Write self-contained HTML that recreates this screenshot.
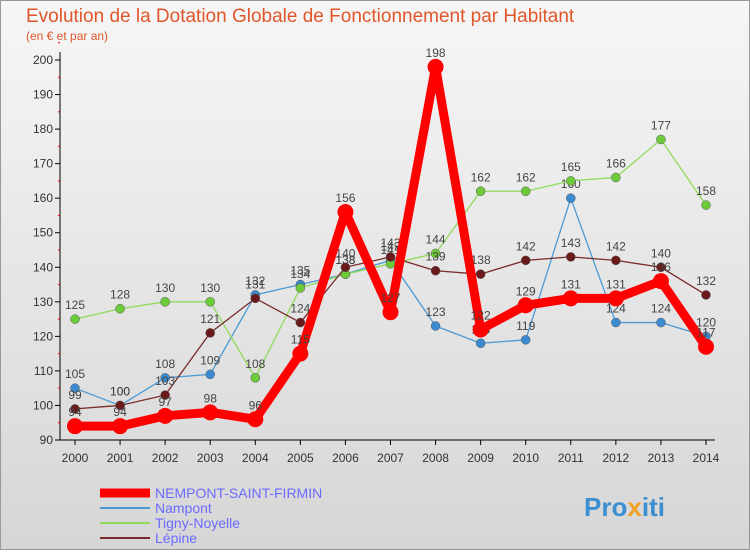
<!DOCTYPE html>
<html><head><meta charset="utf-8"><style>
body{margin:0;width:750px;height:550px;overflow:hidden;font-family:"Liberation Sans",sans-serif}
svg text{font-family:"Liberation Sans",sans-serif}
</style></head><body>
<svg width="750" height="550">
<defs><linearGradient id="bg" x1="0" y1="0" x2="0" y2="1"><stop offset="0" stop-color="#f6f6f6"/><stop offset="1" stop-color="#d6d6d6"/></linearGradient></defs>
<rect x="0.5" y="0.5" width="749" height="549" fill="url(#bg)" stroke="#999"/>
<text x="26" y="22" font-size="19" fill="#e0562b">Evolution de la Dotation Globale de Fonctionnement par Habitant</text>
<text x="26" y="40" font-size="12" fill="#e0562b">(en € et par an)</text>
<g id="axes"></g><g id="series"></g><g id="legend"></g>
<text x="584" y="516" font-size="26" font-weight="bold" fill="#3b8fd1">Pro<tspan fill="#f2a023">x</tspan>iti</text>
</svg>
<script>
const years=[2000,2001,2002,2003,2004,2005,2006,2007,2008,2009,2010,2011,2012,2013,2014];
const nempont=[94,94,97,98,96,115,156,127,198,122,129,131,131,136,117];
const nampont=[105,100,108,109,132,135,138,142,123,118,119,160,124,124,120];
const tigny=[125,128,130,130,108,134,138,141,144,162,162,165,166,177,158];
const lepine=[99,100,103,121,131,124,140,143,139,138,142,143,142,140,132];
const yTicks=[90,100,110,120,130,140,150,160,170,180,190,200];
const names=["NEMPONT-SAINT-FIRMIN","Nampont","Tigny-Noyelle","Lépine"];
const NS="http://www.w3.org/2000/svg";
const x=i=>75+i*(706-75)/(years.length-1);
const y=v=>440-(v-90)*(380/110);
function mk(t,a,p){const e=document.createElementNS(NS,t);for(const k in a)e.setAttribute(k,a[k]);p.appendChild(e);return e;}
const ax=document.getElementById('axes');
const yl=mk('line',{x1:60,y1:52,x2:60,y2:440,stroke:'#000'},ax);


const xl=mk('line',{x1:60,y1:440,x2:715,y2:440,stroke:'#000'},ax);


yTicks.forEach(v=>{mk('line',{x1:55,x2:60,y1:y(v),y2:y(v),stroke:'#000'},ax);
mk('line',{x1:58,x2:60,y1:y(v+5),y2:y(v+5),stroke:'#e00'},ax);
const t=mk('text',{x:53,y:y(v)+4,'font-size':12,'text-anchor':'end',fill:'#333'},ax);t.textContent=v;

});
years.forEach((yr,i)=>{mk('line',{x1:x(i),x2:x(i),y1:440,y2:445,stroke:'#000'},ax);
const t=mk('text',{x:x(i),y:462,'font-size':12,'text-anchor':'middle',fill:'#333'},ax);t.textContent=yr;

});
const sg=document.getElementById('series');
const defs=[[nampont,'#4a9ad6','#3a8bd0',1.3,4.5],[tigny,'#8fdb5a','#6ccb38',1.3,4.5],[lepine,'#7a2a2a','#6a1a1a',1.3,4.5],[nempont,'#f00','#f00',9,8]];
const order=[3,0,1,2];
[0,1,2,3].forEach(k=>{const [d,lc,pc,w,r]=defs[k];
const g=mk('g',{},sg);


mk('polyline',{points:d.map((v,i)=>x(i)+','+y(v)).join(' '),fill:'none',stroke:lc,'stroke-width':w,'stroke-linejoin':'round'},g);
d.forEach((v,i)=>{const c=mk('circle',{cx:x(i),cy:y(v),r:r,fill:pc,stroke:k==3?'none':'#555','stroke-width':0.5},g);


const t=mk('text',{x:x(i),y:y(v)-10,'font-size':12,'text-anchor':'middle',fill:'#444'},g);t.textContent=v;

});});
const lg=document.getElementById('legend');
const lcols=['#f00','#4a9ad6','#8fdb5a','#7a2a2a'],lw=[9,2,2,2];
names.forEach((n,i)=>{const yy=493+i*15;
const g=mk('g',{},lg);


mk('line',{x1:100,x2:150,y1:yy,y2:yy,stroke:lcols[i],'stroke-width':lw[i]},g);
const t=mk('text',{x:155,y:yy+5,'font-size':14,fill:'#6b6bff'},g);t.textContent=n;});
</script>
</body></html>
